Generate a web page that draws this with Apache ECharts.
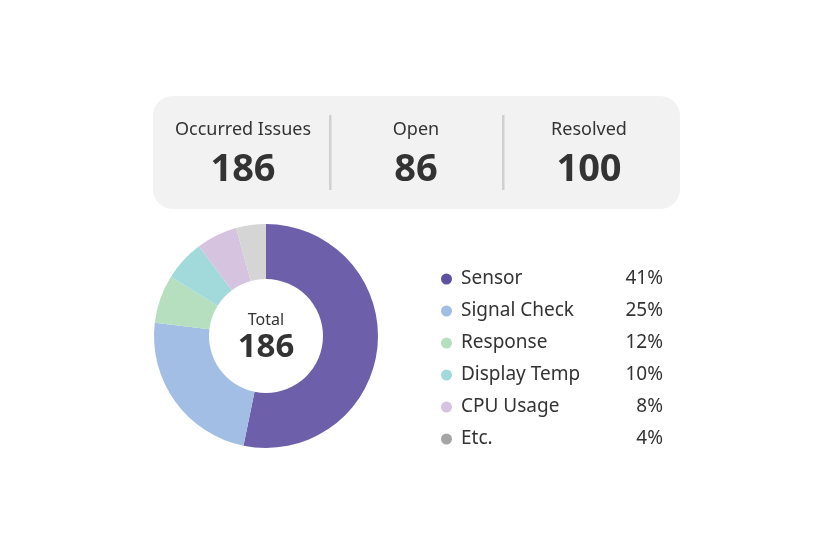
<!DOCTYPE html>
<html>
<head>
<meta charset="utf-8">
<script src="https://cdn.jsdelivr.net/npm/echarts@6/dist/echarts.min.js"></script>
<style>
html,body{margin:0;padding:0;background:#fff;}
#chart{width:839px;height:559px;}
</style>
</head>
<body>
<div id="chart"></div>
<script>
// Data
const categories = ['Sensor', 'Signal Check', 'Response', 'Display Temp', 'CPU Usage', 'Etc.'];
const sliceValues = [99, 44, 13, 11, 11, 8];
const percentLabels = ['41%', '25%', '12%', '10%', '8%', '4%'];
const summaryTitles = ['Occurred Issues', 'Open', 'Resolved'];
const summaryValues = ['186', '86', '100'];
const totalLabel = 'Total';
const totalValue = '186';

const sliceColors = ['#6e5fab', '#a3bee4', '#b5dfbf', '#a2dadb', '#d6c3e0', '#d5d5d5'];
const dotColors = ['#5f519f', '#a3bee4', '#b5dfbf', '#a2dadb', '#d6c3e0', '#a5a5a5'];

const FONT = '"Noto Sans", "Open Sans", sans-serif';
const chart = echarts.init(document.getElementById('chart'), null, {renderer: 'canvas'});

const colX = [243, 416, 589];
const graphics = [
  {type: 'rect', shape: {x: 153, y: 96, width: 527, height: 113, r: 20}, style: {fill: '#f2f2f2'}, z: 0},
  {type: 'rect', shape: {x: 329, y: 115, width: 2.5, height: 75}, style: {fill: '#d0d0d0'}, z: 1},
  {type: 'rect', shape: {x: 502, y: 115, width: 2.5, height: 75}, style: {fill: '#d0d0d0'}, z: 1}
];
summaryTitles.forEach((t, i) => {
  graphics.push({type: 'text', x: colX[i], y: 130, z: 2,
    style: {text: t, fill: '#333', font: '18px ' + FONT, textAlign: 'center', textVerticalAlign: 'middle'}});
  graphics.push({type: 'text', x: colX[i], y: 170, z: 2,
    style: {text: summaryValues[i], fill: '#333', font: 'bold 38px ' + FONT, textAlign: 'center', textVerticalAlign: 'middle'}});
});
graphics.push({type: 'text', x: 266, y: 320, z: 5,
  style: {text: totalLabel, fill: '#333', font: '16px ' + FONT, textAlign: 'center', textVerticalAlign: 'middle'}});
graphics.push({type: 'text', x: 266, y: 348, z: 5,
  style: {text: totalValue, fill: '#333', font: 'bold 33px ' + FONT, textAlign: 'center', textVerticalAlign: 'middle'}});

chart.setOption({
  backgroundColor: '#fff',
  animation: false,
  color: sliceColors,
  graphic: graphics,
  legend: {
    orient: 'vertical',
    left: 436,
    top: 263,
    itemWidth: 11,
    itemHeight: 11,
    itemGap: 10,
    icon: 'circle',
    selectedMode: false,
    data: categories.map((c, i) => ({name: c, itemStyle: {color: dotColors[i]}})),
    formatter: function (name) {
      const i = categories.indexOf(name);
      return '{n|' + name + '}{p|' + percentLabels[i] + '}';
    },
    textStyle: {
      fontFamily: FONT,
      fontSize: 19,
      color: '#333',
      lineHeight: 22,
      rich: {
        n: {width: 160, fontSize: 19, color: '#333', fontFamily: FONT, padding: [0, 0, 0, 4], lineHeight: 22},
        p: {width: 42, align: 'right', fontSize: 19, color: '#333', fontFamily: FONT, lineHeight: 22}
      }
    }
  },
  series: [{
    type: 'pie',
    center: [266, 336],
    radius: [57, 112],
    startAngle: 90,
    clockwise: true,
    label: {show: false},
    labelLine: {show: false},
    emphasis: {disabled: true},
    itemStyle: {borderWidth: 0},
    data: categories.map((c, i) => ({name: c, value: sliceValues[i]}))
  }]
});
</script>
</body>
</html>
